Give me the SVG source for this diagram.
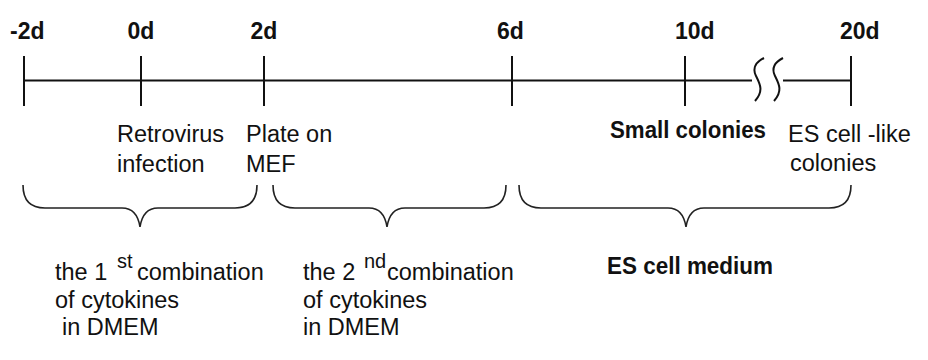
<svg xmlns="http://www.w3.org/2000/svg" width="928" height="360" viewBox="0 0 928 360">
<style>
  .t { font-family: "Liberation Sans", Arial, sans-serif; font-size: 23.5px; fill: #111; }
  .b { font-family: "Liberation Sans", Arial, sans-serif; font-size: 23px; font-weight: bold; fill: #111; }
  .sup { font-family: "Liberation Sans", Arial, sans-serif; font-size: 20px; fill: #111; }
  .ln { stroke: #111; stroke-width: 2; fill: none; }
  .br { stroke: #222; stroke-width: 1.6; fill: none; }
</style>
<rect width="928" height="360" fill="#fff"/>
<g id="connectors">
  <path class="ln" d="M24,80.5 H752 M783,80.5 H851"/>
  <path class="ln" d="M764,58 C756,62 752,68 756,76 C760,84 764,91 755,101"/>
  <path class="ln" d="M783,58 C775,62 771,68 775,76 C779,84 783,91 774,101"/>
  <path class="ln" d="M24,56 V106 M141,56 V106 M264,56 V106 M512,56 V106 M685,56 V106 M851,56 V106"/>
</g>
<g id="tick-labels">
  <text class="b" x="10" y="39">-2d</text>
  <text class="b" x="141" y="39" text-anchor="middle">0d</text>
  <text class="b" x="264" y="39" text-anchor="middle">2d</text>
  <text class="b" x="510.5" y="39" text-anchor="middle">6d</text>
  <text class="b" x="675" y="39">10d</text>
  <text class="b" x="840" y="39">20d</text>
</g>
<g id="retrovirus">
  <text class="t" x="117" y="141.5">Retrovirus</text>
  <text class="t" x="117" y="171.5">infection</text>
</g>
<g id="plate">
  <text class="t" x="246" y="141.5">Plate on</text>
  <text class="t" x="246" y="171.5">MEF</text>
</g>
<g id="small-colonies">
  <text class="b" x="610" y="138" textLength="156" lengthAdjust="spacingAndGlyphs">Small colonies</text>
</g>
<g id="es-like">
  <text class="t" x="788" y="141.5">ES cell -like</text>
  <text class="t" x="790" y="170.5">colonies</text>
</g>
<g id="brace1"><path class="br" d="M23,185 C23,200 30,208 45,208 L122,208 C132,208 138,214 140,227 C142,214 148,208 158,208 L235,208 C250,208 257,200 257,185"/></g>
<g id="brace2"><path class="br" d="M273,185 C273,200 280,208 295,208 L369,208 C379,208 385,214 387,227 C389,214 395,208 405,208 L484,208 C499,208 506,200 506,185"/></g>
<g id="brace3"><path class="br" d="M519,185 C519,200 526,208 541,208 L668,208 C678,208 684,214 686,227 C688,214 694,208 704,208 L829,208 C844,208 851,200 851,185"/></g>
<g id="combo1">
  <text class="t" x="55" y="280">the 1</text>
  <text class="sup" x="117" y="268">st</text>
  <text class="t" x="137" y="280">combination</text>
  <text class="t" x="55" y="308">of cytokines</text>
  <text class="t" x="62" y="335">in DMEM</text>
</g>
<g id="combo2">
  <text class="t" x="303" y="280">the 2</text>
  <text class="sup" x="364" y="268">nd</text>
  <text class="t" x="387" y="280">combination</text>
  <text class="t" x="303" y="308">of cytokines</text>
  <text class="t" x="303" y="335">in DMEM</text>
</g>
<g id="es-medium">
  <text class="b" x="607" y="274" textLength="166" lengthAdjust="spacingAndGlyphs">ES cell medium</text>
</g>
</svg>
